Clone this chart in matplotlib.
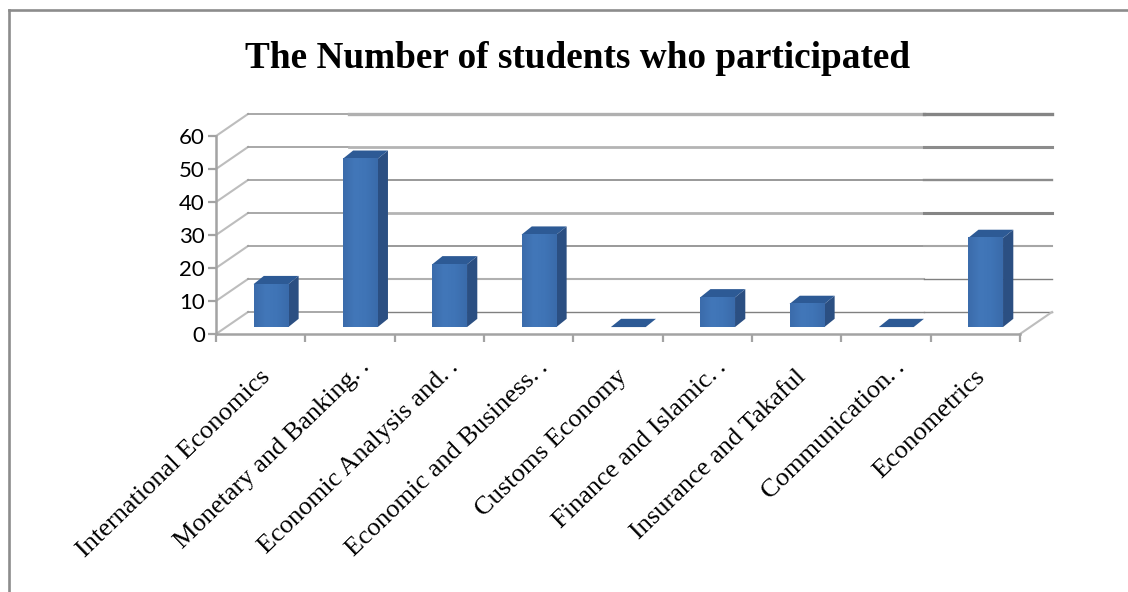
import matplotlib
matplotlib.use("Agg")
from matplotlib import pyplot as plt
from matplotlib.colors import LinearSegmentedColormap
from matplotlib.patches import Polygon
from matplotlib.lines import Line2D
import numpy as np

categories = ["International Economics", "Monetary and Banking.\u2009.", "Economic Analysis and.\u2009.",
              "Economic and Business.\u2009.", "Customs Economy", "Finance and Islamic.\u2009.",
              "Insurance and Takaful", "Communication.\u2009.", "Econometrics"]
students = [13, 51, 19, 28, 0, 9, 7, 0, 27]
y_ticks = [0, 10, 20, 30, 40, 50, 60]
title = "The Number of students who participated"

W, H = 1128, 592
fig = plt.figure(figsize=(W / 100, H / 100), dpi=100, facecolor="white")
ax = fig.add_axes([216 / W, (H - 334) / H, 804 / W, 198 / H])
n = len(categories)
ax.patch.set_visible(False)

# fake 3d: depth of the box and of the bars in data units
dx, dy = 32 / 89.3, 22 / 3.3
bar_w = 0.39
bar_x, bar_y = 0.115, 2.1
bar_dx, bar_dy = 0.115, 2.5

grey = "#a3a3a3"
# the jpeg pieces of the original give each gridline its own weight
mid_style = {0: ("#808080", 1.0), 10: ("#b0b0b0", 1.5), 20: ("#7d7d7d", 1.1), 30: ("#b4b4b4", 2.0),
             40: ("#7d7d7d", 1.1), 50: ("#b4b4b4", 2.0), 60: ("#b0b0b0", 2.4)}
end_style = {0: ("#808080", 1.0), 10: ("#808080", 1.0), 20: ("#a6a6a6", 1.5), 30: ("#858585", 2.2),
             40: ("#8c8c8c", 1.7), 50: ("#8c8c8c", 2.2), 60: ("#858585", 2.4)}
split1, split2 = 1.49, 7.92
for v in y_ticks:
    ax.plot([0, dx], [v, v + dy], color="#bdbdbd", lw=1.5, clip_on=False, zorder=1)
    ax.plot([dx, split1], [v + dy, v + dy], color="#9a9a9a", lw=1.2, clip_on=False, zorder=1)
    c, lw = mid_style[v]
    ax.plot([split1, split2], [v + dy, v + dy], color=c, lw=lw, clip_on=False, zorder=1)
    c, lw = end_style[v]
    ax.plot([split2, n + dx], [v + dy, v + dy], color=c, lw=lw, clip_on=False, zorder=1)
ax.plot([n, n + dx], [0, dy], color="#bdbdbd", lw=1.5, clip_on=False, zorder=1)

# bars
blues = LinearSegmentedColormap.from_list("bar", ["#3b6cab", "#4277b9", "#3f74b6", "#3a6bab"])
grad = np.linspace(0, 1, 32).reshape(1, -1)
for i, v in enumerate(students):
    x0 = i + 0.5 - bar_w / 2 + bar_x
    x1 = x0 + bar_w
    y0 = bar_y
    y1 = bar_y + v
    ax.add_patch(Polygon([(x1, y0), (x1 + bar_dx, y0 + bar_dy), (x1 + bar_dx, y1 + bar_dy), (x1, y1)],
                         fc="#2b4f82", ec="none", clip_on=False, zorder=3))
    ax.add_patch(Polygon([(x0, y1), (x1, y1), (x1 + bar_dx, y1 + bar_dy), (x0 + bar_dx, y1 + bar_dy)],
                         fc="#2d5a95", ec="none", clip_on=False, zorder=3))
    if v > 0:
        ax.imshow(grad, cmap=blues, extent=(x0, x1, y0, y1), aspect="auto", zorder=4, clip_on=False)

ax.set_xlim(0, n)
ax.set_ylim(0, 60)

for s in ["top", "right"]:
    ax.spines[s].set_visible(False)
for s in ["left", "bottom"]:
    ax.spines[s].set_color(grey)
    ax.spines[s].set_linewidth(1.8)
    ax.spines[s].set_zorder(2)

ax.set_yticks(y_ticks)
ax.set_xticks(range(n + 1))
ax.set_xticklabels([])
ax.tick_params(axis="y", length=6, width=1.6, color=grey, labelsize=16, pad=2, direction="out")
ax.tick_params(axis="x", length=6, width=1.6, color=grey)
for t in ax.get_yticklabels():
    t.set_fontfamily("Lato")
    t.set_color("black")

# rotated category labels, right end under the middle of each slot
for i, c in enumerate(categories):
    # shortened names run on a bit further
    off = 10 if "\u2009" in c else 0
    ax.annotate(c, xy=(i + 0.5, 0), xycoords=("data", "axes fraction"), xytext=(6 + off, -40 + off),
                textcoords="offset pixels", rotation=44, rotation_mode="anchor",
                ha="right", va="center", fontsize=19, family=["Liberation Serif", "DejaVu Sans"], color="black")

fig.text(578 / W, 1 - 58 / H, title, ha="center", va="center", fontsize=26.8,
         fontweight="bold", family="Liberation Serif", color="black")

# chart frame, left and top only are inside the crop
frame = dict(color="#8c8c8c", lw=1.9, transform=fig.transFigure)
fig.add_artist(Line2D([9 / W, 9 / W], [0, 1 - 10 / H], **frame))
fig.add_artist(Line2D([9 / W, 1], [1 - 10 / H, 1 - 10 / H], **frame))

fig.savefig("out.png", dpi=100)
